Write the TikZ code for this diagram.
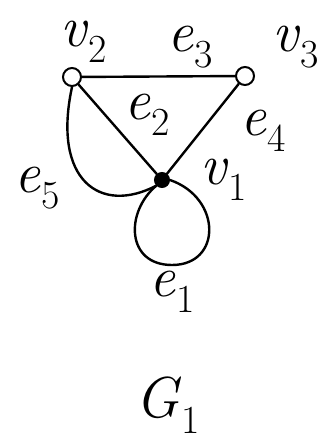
\documentclass[tikz,border=0pt]{standalone}
\usepackage{tikz}
\usetikzlibrary{positioning, calc}
\newcommand{\hlab}[2]{\textit{#1}\raisebox{-0.28em}{\fontsize{40}{40}\selectfont #2}}

\begin{document}
\begin{tikzpicture}[x=1bp, y=-1bp, line width=2.4bp, line cap=round,
    vertex/.style={circle, draw, line width=2bp, minimum size=18bp, inner sep=0pt},
    hub/.style={vertex, fill=black, minimum size=14bp},
    lbl/.style={font=\fontsize{58}{58}\selectfont, inner sep=0pt}]
    \useasboundingbox (0,0) rectangle (327,442);

    % vertices
    \node[vertex] (v2) at (72,77) {};
    \node[vertex] (v3) at (245,76) {};
    \node[hub] (v1) at (162,180) {};

    % vertex labels
    \node[lbl] (lv2) at (84,42) {\hlab{v}{2}};
    \node[lbl] (lv3) at (296,47) {\hlab{v}{3}};
    \node[lbl] (lv1) at (224,180) {\hlab{v}{1}};

    % edges
    \draw (v2) -- (v3);
    \draw (v2) -- (v1);
    \draw (v3) -- (v1);
    \draw (v2.south) .. controls (52,180) and (100,215) .. (v1.south west);
    % loop at v1
    \draw (v1.south west) .. controls (125,212) and (126,265) .. (172,265)
        .. controls (222,265) and (222,198) .. (v1.east);

    % edge labels
    \node[lbl] (le3) at (190,47) {\hlab{e}{3}};
    \node[lbl] (le2) at (147,115) {\hlab{e}{2}};
    \node[lbl] (le4) at (263,131) {\hlab{e}{4}};
    \node[lbl] (le5) at (37,188) {\hlab{e}{5}};
    \node[lbl] (le1) at (172,292) {\hlab{e}{1}};

    % graph name
    \node[lbl] (g1) at (168,405) {\hlab{G}{1}};
\end{tikzpicture}
\end{document}
